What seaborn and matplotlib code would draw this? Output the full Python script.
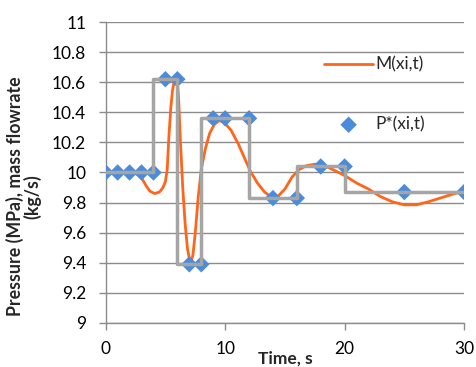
import numpy as np
import matplotlib
matplotlib.use("Agg")
import matplotlib.pyplot as plt
import seaborn as sns
import pandas as pd

# --- data ---
# model output M(xi,t), smooth curve
m_time = [0, 1, 2, 2.6, 3.0, 3.4, 3.7, 4.1, 4.5, 4.8, 5.0, 5.15, 5.3, 5.45, 5.6,
          5.75, 5.9, 6.0, 6.1, 6.25, 6.45, 6.65, 6.85, 7.0, 7.15, 7.3, 7.5, 7.75,
          8.0, 8.35, 8.7, 9.1, 9.5, 9.9, 10.5, 11.1, 11.6, 12.1, 12.7, 13.3, 13.9,
          14.4, 15.0, 15.6, 16.2, 16.8, 17.5, 18.2, 19.0, 20.0, 21.0, 22.0, 23.0,
          24.0, 25.0, 26.0, 27.0, 28.0, 29.0, 30.0]
m_value = [10.0, 10.0, 10.0, 9.99, 9.965, 9.91, 9.876, 9.86, 9.87, 9.9, 9.94,
           10.02, 10.25, 10.43, 10.55, 10.61, 10.63, 10.6, 10.5, 10.22, 9.9, 9.66,
           9.49, 9.43, 9.41, 9.45, 9.6, 9.84, 10.02, 10.16, 10.26, 10.32, 10.345,
           10.335, 10.28, 10.19, 10.1, 10.01, 9.93, 9.87, 9.835, 9.84, 9.89, 9.97,
           10.02, 10.045, 10.055, 10.05, 10.02, 9.98, 9.93, 9.89, 9.84, 9.805,
           9.785, 9.785, 9.805, 9.83, 9.855, 9.875]

# P*(xi,t) points
p_time = [0, 1, 2, 3, 4, 5, 6, 7, 8, 9, 10, 12, 14, 16, 18, 20, 25, 30]
p_value = [10.0, 10.0, 10.0, 10.0, 10.0, 10.62, 10.62, 9.39, 9.39, 10.36, 10.36,
           10.36, 9.83, 9.83, 10.04, 10.04, 9.87, 9.87]

# piecewise constant profile
step_time = [0, 4, 6, 8, 12, 16, 20, 30]
step_value = [10.0, 10.62, 9.39, 10.36, 9.83, 10.04, 9.87, 9.87]

sns.set_style("white")
plt.rcParams['font.family'] = ['Lato', 'DejaVu Sans']

fig = plt.figure(figsize=(4.76, 3.67), dpi=100)
ax = fig.add_axes([0.222, 0.12, 0.753, 0.82])

df_m = pd.DataFrame({"t": m_time, "v": m_value})
df_p = pd.DataFrame({"t": p_time, "v": p_value})
df_s = pd.DataFrame({"t": step_time, "v": step_value})

sns.lineplot(data=df_m, x="t", y="v", ax=ax, color="#FF661A", linewidth=2.0,
             estimator=None, label="M(xi,t)", zorder=3)
sns.scatterplot(data=df_p, x="t", y="v", ax=ax, marker="D", s=70, color="#4A8BDB",
                edgecolor="none", label="P*(xi,t)", zorder=4)
sns.lineplot(data=df_s, x="t", y="v", ax=ax, color="#A5A5A5", linewidth=2.5,
             estimator=None, drawstyle="steps-post", zorder=5, legend=False)

ax.set_xlim(0, 30)
ax.set_ylim(9, 11)
ax.set_xticks([0, 10, 20, 30])
ax.set_yticks(np.round(np.arange(9, 11.01, 0.2), 1))
ax.set_yticklabels(["9", "9.2", "9.4", "9.6", "9.8", "10", "10.2", "10.4", "10.6", "10.8", "11"])
ax.grid(axis="y", color="#8C8C8C", linewidth=1.0)
ax.set_axisbelow(True)
ax.tick_params(axis="both", labelsize=12.5, colors="#8C8C8C", labelcolor="black",
               direction="out", length=5, width=1)
ax.tick_params(axis="y", pad=9, left=True)
ax.tick_params(axis="x", pad=8, bottom=True)
for side in ["top", "right"]:
    ax.spines[side].set_visible(False)
for side in ["left", "bottom"]:
    ax.spines[side].set_color("#8C8C8C")
    ax.spines[side].set_linewidth(1.0)

ax.set_xlabel("Time, s", fontsize=12.5, fontweight="bold")
ax.xaxis.set_label_coords(0.5, -0.09)
ax.set_ylabel("Pressure (MPa), mass flowrate\n(kg/s)", fontsize=12.8,
              fontweight="bold", linespacing=1.0)
ax.yaxis.set_label_coords(-0.178, 0.42)

ax.legend(loc="upper left", bbox_to_anchor=(0.61, 0.885), frameon=False,
          fontsize=12.5, labelspacing=2.5, handlelength=2.8, handletextpad=0.15,
          borderpad=0, borderaxespad=0)

fig.savefig("out.png", dpi=100)
